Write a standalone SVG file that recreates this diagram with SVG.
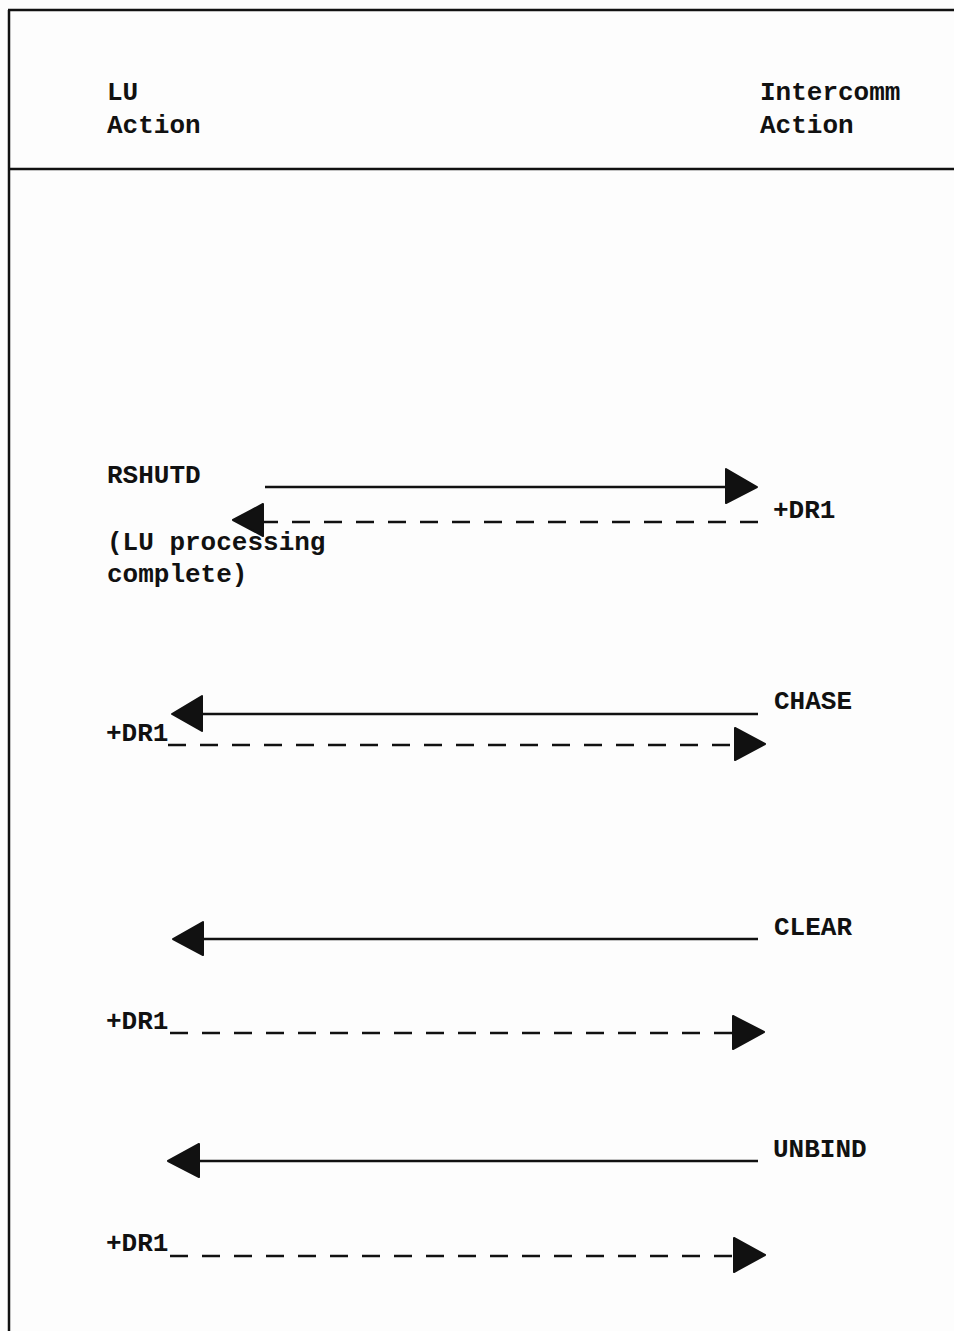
<svg xmlns="http://www.w3.org/2000/svg" width="954" height="1331" viewBox="0 0 954 1331">
  <defs>
    <style>
      .frame { fill: none; stroke: #111; stroke-width: 2.5; }
      .solid { fill: none; stroke: #111; stroke-width: 2.5; }
      .dashed { fill: none; stroke: #111; stroke-width: 2.5; stroke-dasharray: 18 14; }
      .head { fill: #111; stroke: #111; stroke-width: 2; stroke-linejoin: round; }
      text { font-family: "Liberation Mono", "Courier New", monospace; font-size: 26px; font-weight: bold; fill: #111; }
    </style>
  </defs>
  <rect x="0" y="0" width="954" height="1331" fill="#fdfdfd"/>

  <!-- table frame -->
  <g id="frame">
    <line class="frame" x1="8" y1="10" x2="954" y2="10"/>
    <line class="frame" x1="9" y1="10" x2="9" y2="1331"/>
    <line class="frame" x1="8" y1="169" x2="954" y2="169"/>
  </g>

  <!-- column headings -->
  <g id="heading-lu">
    <text x="107" y="100">LU</text>
    <text x="107" y="133">Action</text>
  </g>
  <g id="heading-intercomm">
    <text x="760" y="100">Intercomm</text>
    <text x="760" y="133">Action</text>
  </g>

  <!-- message labels -->
  <g id="rshutd"><text x="107" y="483">RSHUTD</text></g>
  <g id="dr1-a"><text x="773" y="518">+DR1</text></g>
  <g id="lu-complete">
    <text x="107" y="550">(LU processing</text>
    <text x="107" y="582">complete)</text>
  </g>
  <g id="chase"><text x="774" y="709">CHASE</text></g>
  <g id="dr1-b"><text x="106" y="741">+DR1</text></g>
  <g id="clear"><text x="774" y="935">CLEAR</text></g>
  <g id="dr1-c"><text x="106" y="1029">+DR1</text></g>
  <g id="unbind"><text x="773" y="1157">UNBIND</text></g>
  <g id="dr1-d"><text x="106" y="1251">+DR1</text></g>

  <!-- flows between LU and Intercomm -->
  <g id="connectors">
    <!-- RSHUTD -->
    <line class="solid" x1="265" y1="487" x2="727" y2="487"/>
    <polygon class="head" points="726,469 757,487 726,503"/>
    <!-- +DR1 response -->
    <line class="dashed" x1="758" y1="522" x2="263" y2="522"/>
    <polygon class="head" points="263,504 233,520 263,536"/>

    <!-- CHASE -->
    <line class="solid" x1="758" y1="714" x2="200" y2="714"/>
    <polygon class="head" points="202,696 172,714 202,731"/>
    <line class="dashed" x1="168" y1="745" x2="735" y2="745"/>
    <polygon class="head" points="735,728 765,744 735,760"/>

    <!-- CLEAR -->
    <line class="solid" x1="758" y1="939" x2="200" y2="939"/>
    <polygon class="head" points="203,922 173,939 203,955"/>
    <line class="dashed" x1="170" y1="1033" x2="733" y2="1033"/>
    <polygon class="head" points="733,1016 764,1032 733,1049"/>

    <!-- UNBIND -->
    <line class="solid" x1="758" y1="1161" x2="197" y2="1161"/>
    <polygon class="head" points="199,1144 168,1161 199,1177"/>
    <line class="dashed" x1="170" y1="1256" x2="734" y2="1256"/>
    <polygon class="head" points="734,1238 765,1255 734,1272"/>
  </g>
</svg>
